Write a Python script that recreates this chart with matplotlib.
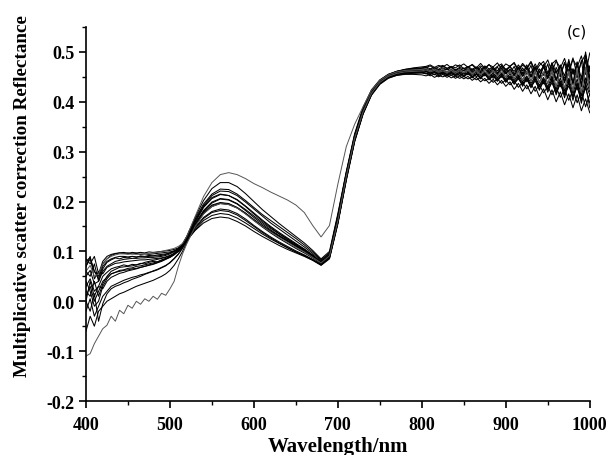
import numpy as np
import matplotlib
matplotlib.use('Agg')
import matplotlib.pyplot as plt
from matplotlib.ticker import MultipleLocator

# wavelength grid: fine in the noisy blue / NIR parts, 10 nm in between
wl_blue = np.arange(400, 521, 5)
wl_mid = np.arange(530, 801, 10)
wl_nir = np.arange(805, 1001, 5)
wavelength = np.concatenate([wl_blue, wl_mid, wl_nir])

# spectra: vis part (400-800 nm) and nir part (805-1000 nm)
curve_a_vis = [0.030, 0.045, 0.020, 0.030, 0.050, 0.058, 0.065, 0.068, 0.070, 0.073, 0.071, 0.074, 0.073,
               0.076, 0.075, 0.078, 0.080, 0.079, 0.083, 0.086, 0.088, 0.093, 0.100, 0.111, 0.125,
               0.155, 0.180, 0.197, 0.205, 0.203, 0.195, 0.182, 0.168, 0.155, 0.143, 0.132, 0.122, 0.112,
               0.102, 0.090, 0.077, 0.090, 0.163, 0.252, 0.328, 0.380, 0.418, 0.440, 0.452, 0.458, 0.461,
               0.462, 0.463]
curve_a_nir = [0.465, 0.461, 0.464, 0.460, 0.463, 0.466, 0.461, 0.464, 0.459, 0.463,
               0.466, 0.460, 0.463, 0.458, 0.465, 0.459, 0.462, 0.456, 0.464, 0.458,
               0.463, 0.454, 0.461, 0.452, 0.460, 0.450, 0.458, 0.447, 0.457, 0.449,
               0.458, 0.444, 0.456, 0.441, 0.459, 0.438, 0.455, 0.436, 0.462, 0.430]

curve_b_vis = [0.070, 0.085, 0.060, 0.050, 0.075, 0.085, 0.092, 0.095, 0.097, 0.098, 0.096, 0.098, 0.097,
               0.098, 0.097, 0.099, 0.098, 0.099, 0.100, 0.101, 0.102, 0.104, 0.107, 0.113, 0.128,
               0.165, 0.195, 0.215, 0.225, 0.224, 0.215, 0.202, 0.188, 0.174, 0.162, 0.150, 0.138, 0.126,
               0.113, 0.099, 0.083, 0.097, 0.172, 0.258, 0.333, 0.385, 0.421, 0.443, 0.455, 0.461, 0.465,
               0.467, 0.468]
curve_b_nir = [0.470, 0.466, 0.469, 0.465, 0.471, 0.467, 0.470, 0.464, 0.469, 0.466,
               0.471, 0.465, 0.470, 0.463, 0.472, 0.466, 0.469, 0.462, 0.473, 0.465,
               0.470, 0.461, 0.474, 0.462, 0.469, 0.458, 0.476, 0.460, 0.471, 0.455,
               0.478, 0.458, 0.472, 0.452, 0.482, 0.455, 0.476, 0.448, 0.492, 0.450]

curve_c_vis = [-0.020, 0.005, -0.030, -0.010, 0.010, 0.020, 0.030, 0.034, 0.038, 0.042, 0.045, 0.048, 0.050,
               0.053, 0.055, 0.058, 0.060, 0.063, 0.067, 0.071, 0.078, 0.086, 0.095, 0.108, 0.122,
               0.148, 0.168, 0.180, 0.185, 0.183, 0.176, 0.165, 0.152, 0.140, 0.129, 0.119, 0.110, 0.101,
               0.093, 0.084, 0.074, 0.088, 0.158, 0.246, 0.323, 0.377, 0.415, 0.437, 0.449, 0.455, 0.458,
               0.459, 0.459]
curve_c_nir = [0.461, 0.456, 0.460, 0.455, 0.459, 0.454, 0.458, 0.453, 0.457, 0.452,
               0.458, 0.450, 0.456, 0.448, 0.455, 0.446, 0.453, 0.443, 0.452, 0.441,
               0.449, 0.437, 0.446, 0.434, 0.445, 0.430, 0.442, 0.426, 0.440, 0.424,
               0.438, 0.418, 0.436, 0.414, 0.432, 0.410, 0.430, 0.402, 0.428, 0.398]

curve_d_vis = [0.050, 0.062, 0.035, 0.040, 0.060, 0.070, 0.075, 0.080, 0.082, 0.084, 0.085, 0.086, 0.086,
               0.087, 0.087, 0.088, 0.088, 0.089, 0.090, 0.092, 0.095, 0.099, 0.104, 0.112, 0.122,
               0.142, 0.157, 0.166, 0.169, 0.167, 0.160, 0.151, 0.140, 0.130, 0.121, 0.112, 0.104, 0.097,
               0.090, 0.082, 0.072, 0.085, 0.155, 0.242, 0.320, 0.375, 0.413, 0.435, 0.447, 0.453, 0.456,
               0.457, 0.458]
curve_d_nir = [0.457, 0.452, 0.456, 0.450, 0.455, 0.449, 0.454, 0.447, 0.452, 0.446,
               0.451, 0.443, 0.449, 0.440, 0.447, 0.437, 0.445, 0.434, 0.443, 0.431,
               0.440, 0.425, 0.437, 0.421, 0.434, 0.416, 0.431, 0.410, 0.426, 0.404,
               0.424, 0.400, 0.420, 0.394, 0.416, 0.388, 0.414, 0.382, 0.406, 0.378]

curve_e_vis = [0.010, 0.030, 0.000, 0.020, 0.040, 0.048, 0.055, 0.058, 0.060, 0.062, 0.063, 0.065, 0.066,
               0.068, 0.070, 0.072, 0.074, 0.077, 0.080, 0.084, 0.088, 0.094, 0.102, 0.114, 0.130,
               0.168, 0.202, 0.226, 0.238, 0.238, 0.230, 0.216, 0.200, 0.184, 0.170, 0.156, 0.143, 0.130,
               0.117, 0.102, 0.085, 0.100, 0.176, 0.260, 0.336, 0.389, 0.424, 0.444, 0.455, 0.461, 0.464,
               0.466, 0.466]
curve_e_nir = [0.468, 0.463, 0.467, 0.462, 0.468, 0.464, 0.469, 0.463, 0.467, 0.462,
               0.469, 0.462, 0.468, 0.460, 0.470, 0.461, 0.468, 0.458, 0.471, 0.460,
               0.472, 0.456, 0.470, 0.455, 0.474, 0.452, 0.471, 0.450, 0.475, 0.449,
               0.478, 0.444, 0.473, 0.440, 0.485, 0.438, 0.480, 0.432, 0.500, 0.445]

curve_f_vis = [0.080, 0.088, 0.060, 0.045, 0.070, 0.080, 0.085, 0.088, 0.090, 0.090, 0.089, 0.090, 0.089,
               0.090, 0.089, 0.090, 0.091, 0.091, 0.092, 0.094, 0.097, 0.101, 0.106, 0.114, 0.128,
               0.160, 0.190, 0.208, 0.215, 0.212, 0.203, 0.190, 0.175, 0.161, 0.148, 0.136, 0.125, 0.114,
               0.103, 0.091, 0.078, 0.093, 0.167, 0.254, 0.330, 0.382, 0.419, 0.440, 0.452, 0.458, 0.461,
               0.462, 0.463]
curve_f_nir = [0.464, 0.459, 0.463, 0.458, 0.462, 0.457, 0.462, 0.456, 0.461, 0.456,
               0.462, 0.454, 0.460, 0.452, 0.459, 0.450, 0.458, 0.448, 0.457, 0.446,
               0.456, 0.443, 0.454, 0.440, 0.452, 0.437, 0.450, 0.433, 0.449, 0.430,
               0.452, 0.425, 0.448, 0.421, 0.447, 0.417, 0.446, 0.412, 0.448, 0.420]

curve_g_vis = [-0.060, -0.030, -0.050, -0.020, -0.010, 0.000, 0.005, 0.010, 0.015, 0.018, 0.022, 0.026, 0.030,
               0.033, 0.036, 0.039, 0.042, 0.046, 0.050, 0.055, 0.062, 0.072, 0.085, 0.100, 0.118,
               0.152, 0.178, 0.193, 0.198, 0.196, 0.188, 0.176, 0.162, 0.149, 0.137, 0.126, 0.116, 0.106,
               0.097, 0.087, 0.076, 0.090, 0.161, 0.249, 0.326, 0.379, 0.417, 0.439, 0.450, 0.456, 0.459,
               0.460, 0.461]
curve_g_nir = [0.463, 0.459, 0.464, 0.458, 0.463, 0.460, 0.465, 0.459, 0.464, 0.458,
               0.465, 0.458, 0.464, 0.457, 0.466, 0.456, 0.465, 0.455, 0.467, 0.456,
               0.466, 0.452, 0.468, 0.451, 0.467, 0.449, 0.469, 0.447, 0.470, 0.446,
               0.471, 0.442, 0.474, 0.438, 0.476, 0.434, 0.479, 0.430, 0.484, 0.436]

curve_h_vis = [0.020, 0.010, 0.040, 0.010, 0.035, 0.050, 0.060, 0.064, 0.068, 0.069, 0.070, 0.071, 0.073,
               0.075, 0.078, 0.080, 0.082, 0.084, 0.086, 0.088, 0.091, 0.095, 0.101, 0.110, 0.124,
               0.152, 0.176, 0.190, 0.196, 0.194, 0.187, 0.176, 0.163, 0.151, 0.140, 0.130, 0.120, 0.110,
               0.100, 0.089, 0.076, 0.089, 0.160, 0.247, 0.325, 0.378, 0.416, 0.438, 0.451, 0.457, 0.460,
               0.461, 0.462]
curve_h_nir = [0.462, 0.458, 0.461, 0.456, 0.460, 0.455, 0.460, 0.454, 0.459, 0.453,
               0.459, 0.451, 0.457, 0.449, 0.456, 0.447, 0.455, 0.445, 0.454, 0.443,
               0.452, 0.440, 0.450, 0.436, 0.449, 0.433, 0.447, 0.430, 0.445, 0.426,
               0.446, 0.420, 0.442, 0.416, 0.440, 0.410, 0.438, 0.405, 0.436, 0.414]

curve_i_vis = [0.060, 0.050, 0.075, 0.040, 0.065, 0.078, 0.083, 0.087, 0.085, 0.088, 0.087, 0.090, 0.088,
               0.091, 0.090, 0.092, 0.091, 0.093, 0.094, 0.095, 0.097, 0.100, 0.105, 0.113, 0.127,
               0.158, 0.188, 0.206, 0.214, 0.212, 0.204, 0.191, 0.177, 0.163, 0.150, 0.138, 0.127, 0.116,
               0.105, 0.093, 0.079, 0.094, 0.169, 0.255, 0.331, 0.383, 0.420, 0.441, 0.453, 0.460, 0.464,
               0.466, 0.467]
curve_i_nir = [0.469, 0.472, 0.466, 0.470, 0.473, 0.467, 0.471, 0.468, 0.474, 0.466,
               0.470, 0.474, 0.465, 0.472, 0.467, 0.475, 0.464, 0.471, 0.476, 0.463,
               0.472, 0.477, 0.461, 0.474, 0.466, 0.479, 0.459, 0.473, 0.481, 0.458,
               0.476, 0.484, 0.455, 0.478, 0.462, 0.488, 0.452, 0.480, 0.495, 0.460]

curve_j_vis = [0.000, -0.020, 0.015, -0.040, -0.005, 0.015, 0.025, 0.030, 0.033, 0.037, 0.040, 0.044, 0.047,
               0.050, 0.054, 0.057, 0.061, 0.064, 0.068, 0.072, 0.077, 0.085, 0.094, 0.106, 0.121,
               0.146, 0.166, 0.178, 0.182, 0.180, 0.173, 0.162, 0.150, 0.138, 0.127, 0.117, 0.108, 0.099,
               0.091, 0.083, 0.073, 0.087, 0.157, 0.244, 0.321, 0.376, 0.414, 0.436, 0.448, 0.453, 0.455,
               0.455, 0.454]
curve_j_nir = [0.452, 0.455, 0.449, 0.453, 0.450, 0.454, 0.448, 0.452, 0.447, 0.451,
               0.446, 0.450, 0.444, 0.449, 0.442, 0.447, 0.439, 0.446, 0.437, 0.444,
               0.434, 0.442, 0.429, 0.439, 0.426, 0.436, 0.421, 0.434, 0.418, 0.431,
               0.414, 0.429, 0.409, 0.426, 0.403, 0.424, 0.398, 0.421, 0.390, 0.415]

curve_k_vis = [0.085, 0.075, 0.090, 0.055, 0.080, 0.090, 0.094, 0.096, 0.097, 0.096, 0.097, 0.095, 0.096,
               0.094, 0.095, 0.094, 0.095, 0.096, 0.097, 0.098, 0.099, 0.101, 0.104, 0.110, 0.124,
               0.155, 0.182, 0.199, 0.206, 0.204, 0.196, 0.184, 0.171, 0.158, 0.146, 0.135, 0.124, 0.114,
               0.104, 0.092, 0.078, 0.092, 0.165, 0.252, 0.329, 0.381, 0.419, 0.441, 0.454, 0.461, 0.465,
               0.468, 0.470]
curve_k_nir = [0.471, 0.474, 0.469, 0.473, 0.470, 0.475, 0.468, 0.474, 0.471, 0.476,
               0.469, 0.475, 0.468, 0.477, 0.467, 0.474, 0.470, 0.478, 0.466, 0.476,
               0.471, 0.479, 0.464, 0.477, 0.468, 0.481, 0.462, 0.479, 0.470, 0.484,
               0.460, 0.482, 0.468, 0.487, 0.458, 0.485, 0.470, 0.492, 0.455, 0.498]

curve_l_vis = [0.040, 0.020, -0.010, 0.000, 0.030, 0.045, 0.055, 0.058, 0.062, 0.063, 0.066, 0.067, 0.070,
               0.071, 0.073, 0.075, 0.077, 0.079, 0.082, 0.085, 0.089, 0.094, 0.100, 0.110, 0.123,
               0.151, 0.176, 0.191, 0.197, 0.195, 0.188, 0.177, 0.164, 0.152, 0.141, 0.131, 0.121, 0.111,
               0.101, 0.090, 0.077, 0.091, 0.162, 0.249, 0.326, 0.379, 0.416, 0.438, 0.450, 0.456, 0.458,
               0.459, 0.459]
curve_l_nir = [0.458, 0.455, 0.459, 0.453, 0.457, 0.452, 0.458, 0.451, 0.456, 0.450,
               0.457, 0.448, 0.455, 0.446, 0.456, 0.444, 0.452, 0.441, 0.453, 0.439,
               0.450, 0.435, 0.449, 0.431, 0.447, 0.428, 0.446, 0.423, 0.444, 0.419,
               0.443, 0.414, 0.440, 0.408, 0.439, 0.403, 0.436, 0.397, 0.434, 0.388]

curve_m_vis = [0.000, 0.040, 0.010, 0.030, 0.025, 0.040, 0.048, 0.052, 0.056, 0.058, 0.061, 0.063, 0.065,
               0.068, 0.070, 0.073, 0.075, 0.078, 0.081, 0.085, 0.090, 0.096, 0.104, 0.115, 0.129,
               0.162, 0.192, 0.212, 0.221, 0.220, 0.212, 0.199, 0.185, 0.171, 0.157, 0.145, 0.133, 0.121,
               0.109, 0.096, 0.081, 0.096, 0.172, 0.257, 0.333, 0.386, 0.422, 0.443, 0.454, 0.460, 0.463,
               0.464, 0.464]
curve_m_nir = [0.462, 0.466, 0.460, 0.465, 0.461, 0.467, 0.459, 0.465, 0.462, 0.468,
               0.458, 0.466, 0.460, 0.469, 0.456, 0.465, 0.459, 0.470, 0.454, 0.466,
               0.457, 0.471, 0.450, 0.468, 0.455, 0.473, 0.446, 0.466, 0.453, 0.476,
               0.441, 0.469, 0.450, 0.479, 0.436, 0.466, 0.448, 0.483, 0.430, 0.472]

curve_n_vis = [0.070, 0.090, 0.045, 0.060, 0.055, 0.068, 0.072, 0.076, 0.077, 0.079, 0.080, 0.081, 0.082,
               0.083, 0.083, 0.084, 0.085, 0.086, 0.087, 0.089, 0.092, 0.096, 0.102, 0.110, 0.121,
               0.143, 0.162, 0.172, 0.176, 0.174, 0.167, 0.157, 0.146, 0.135, 0.125, 0.116, 0.107, 0.099,
               0.092, 0.083, 0.073, 0.087, 0.157, 0.244, 0.322, 0.377, 0.415, 0.437, 0.449, 0.455, 0.457,
               0.458, 0.458]
curve_n_nir = [0.456, 0.460, 0.454, 0.459, 0.455, 0.461, 0.453, 0.459, 0.452, 0.458,
               0.454, 0.460, 0.450, 0.458, 0.452, 0.461, 0.447, 0.457, 0.449, 0.460,
               0.444, 0.456, 0.446, 0.460, 0.440, 0.454, 0.444, 0.461, 0.436, 0.452,
               0.442, 0.463, 0.430, 0.450, 0.440, 0.466, 0.424, 0.447, 0.438, 0.470]

# the two odd samples: one high in the red, one low and wavy in the blue
outlier_hi_vis = [0.060, 0.072, 0.050, 0.055, 0.075, 0.085, 0.090, 0.093, 0.095, 0.095, 0.094, 0.095, 0.094,
                  0.095, 0.095, 0.096, 0.097, 0.098, 0.100, 0.102, 0.104, 0.106, 0.110, 0.116, 0.130,
                  0.170, 0.210, 0.238, 0.254, 0.258, 0.254, 0.246, 0.236, 0.228, 0.219, 0.211, 0.203, 0.193,
                  0.178, 0.152, 0.129, 0.152, 0.235, 0.310, 0.355, 0.390, 0.423, 0.443, 0.454, 0.460, 0.463,
                  0.464, 0.465]
outlier_hi_nir = [0.467, 0.462, 0.466, 0.461, 0.465, 0.460, 0.466, 0.460, 0.465, 0.459,
                  0.466, 0.457, 0.464, 0.455, 0.465, 0.453, 0.463, 0.452, 0.464, 0.450,
                  0.462, 0.447, 0.464, 0.444, 0.461, 0.442, 0.463, 0.439, 0.460, 0.437,
                  0.463, 0.430, 0.465, 0.426, 0.462, 0.421, 0.466, 0.418, 0.470, 0.428]

outlier_lo_vis = [-0.110, -0.105, -0.085, -0.070, -0.055, -0.048, -0.030, -0.040, -0.018, -0.025, -0.008, -0.014, 0.000,
                  -0.006, 0.005, 0.000, 0.010, 0.004, 0.016, 0.012, 0.025, 0.040, 0.070, 0.095, 0.115,
                  0.150, 0.175, 0.190, 0.196, 0.194, 0.187, 0.175, 0.162, 0.150, 0.139, 0.128, 0.118, 0.108,
                  0.099, 0.088, 0.077, 0.091, 0.162, 0.250, 0.327, 0.380, 0.417, 0.439, 0.451, 0.457, 0.460,
                  0.461, 0.462]
outlier_lo_nir = [0.464, 0.460, 0.463, 0.459, 0.462, 0.458, 0.463, 0.457, 0.462, 0.458,
                  0.463, 0.455, 0.462, 0.454, 0.461, 0.452, 0.463, 0.451, 0.460, 0.450,
                  0.461, 0.446, 0.459, 0.443, 0.462, 0.441, 0.458, 0.438, 0.460, 0.436,
                  0.459, 0.430, 0.463, 0.427, 0.457, 0.423, 0.461, 0.419, 0.466, 0.425]

curves = [(curve_a_vis, curve_a_nir), (curve_b_vis, curve_b_nir), (curve_c_vis, curve_c_nir),
          (curve_d_vis, curve_d_nir), (curve_e_vis, curve_e_nir), (curve_f_vis, curve_f_nir),
          (curve_g_vis, curve_g_nir), (curve_h_vis, curve_h_nir), (curve_i_vis, curve_i_nir),
          (curve_j_vis, curve_j_nir), (curve_k_vis, curve_k_nir), (curve_l_vis, curve_l_nir),
          (curve_m_vis, curve_m_nir), (curve_n_vis, curve_n_nir)]
outliers = [(outlier_hi_vis, outlier_hi_nir), (outlier_lo_vis, outlier_lo_nir)]

plt.rcParams['font.family'] = ['Liberation Serif', 'DejaVu Serif']

fig = plt.figure(figsize=(6.08, 4.56), dpi=100)
ax = fig.add_axes([0.1414, 0.1184, 0.8286, 0.8202])

for vis, nir in curves:
    ax.plot(wavelength, np.concatenate([vis, nir]), color='black', lw=0.75)
for vis, nir in outliers:
    ax.plot(wavelength, np.concatenate([vis, nir]), color='#555555', lw=0.7)

ax.set_xlim(400, 1000)
ax.set_ylim(-0.2, 0.55)
ax.xaxis.set_major_locator(MultipleLocator(100))
ax.xaxis.set_minor_locator(MultipleLocator(50))
ax.yaxis.set_minor_locator(MultipleLocator(0.05))
ax.set_yticks(np.arange(-0.2, 0.51, 0.1))
ax.set_yticklabels(['%.1f' % v for v in np.arange(-0.2, 0.51, 0.1)])

for s in ['top', 'right']:
    ax.spines[s].set_visible(False)
for s in ['left', 'bottom']:
    ax.spines[s].set_linewidth(1.2)
ax.tick_params(which='major', direction='out', length=5, width=1.2, labelsize=13, pad=3)
ax.tick_params(axis='x', which='major', pad=6)
ax.tick_params(which='minor', direction='out', length=3, width=1.0)
for lab in ax.get_xticklabels() + ax.get_yticklabels():
    lab.set_fontweight('bold')

ax.set_xlabel('Wavelength/nm', fontsize=15, fontweight='bold', labelpad=2)
ax.set_ylabel('Multiplicative scatter correction Reflectance', fontsize=13.8, fontweight='bold')
ax.yaxis.set_label_coords(-0.110, 0.551)

fig.text(0.949, 0.930, '(c)', fontsize=11, family='DejaVu Sans', ha='center', va='center')

fig.savefig('out.png', dpi=100)
